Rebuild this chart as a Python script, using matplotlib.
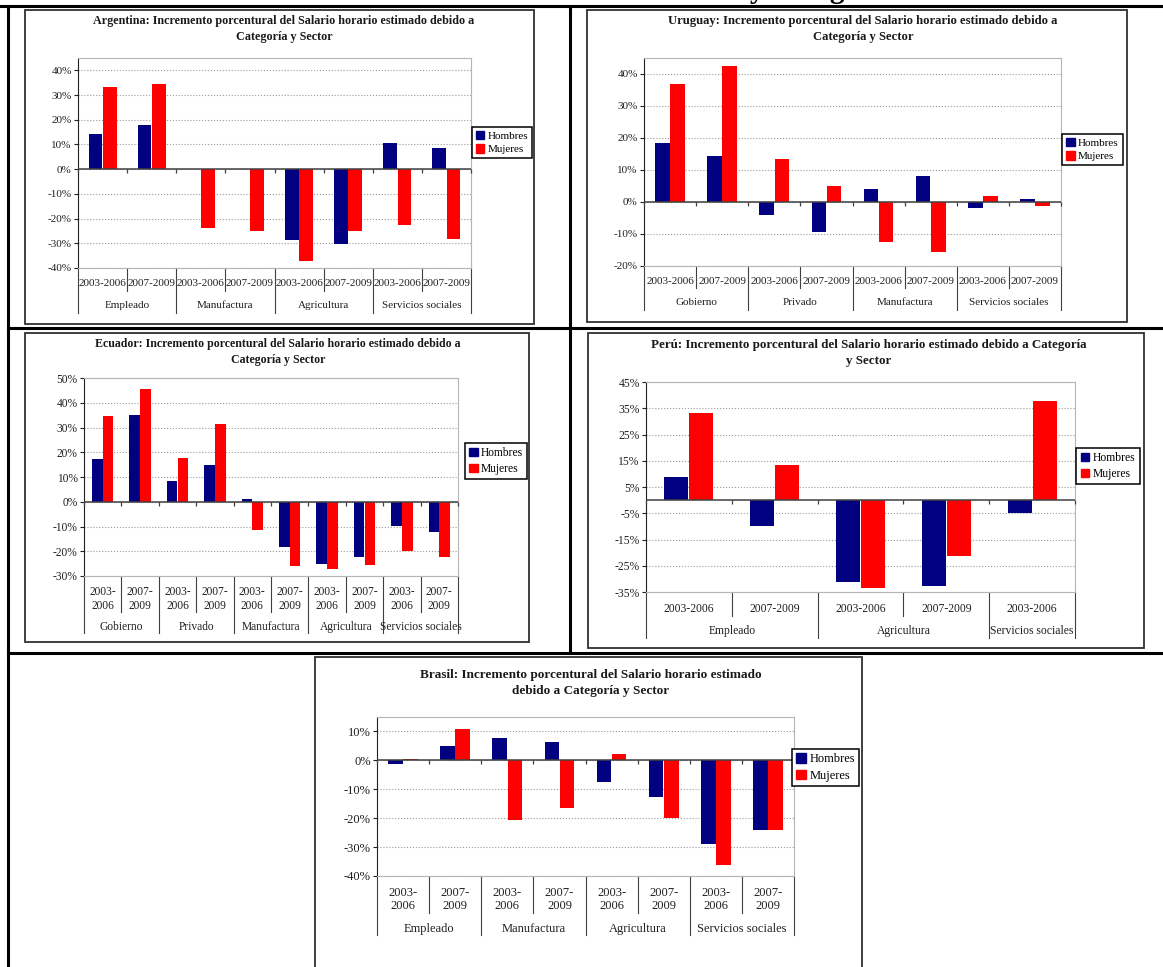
import numpy as np
import matplotlib
matplotlib.use('Agg')
import matplotlib.pyplot as plt
import matplotlib.transforms as mtransforms
from matplotlib.lines import Line2D
from matplotlib.patches import Rectangle, Patch
from matplotlib.ticker import FuncFormatter

plt.rcParams['font.family'] = ['Liberation Serif', 'DejaVu Serif']

W, H = 1163, 967
AZUL = '#000080'
ROJO = '#ff0000'

# ---- datos (% de incremento) ----
periodos_1 = ['2003-2006', '2007-2009'] * 4
periodos_2 = ['2003-\n2006', '2007-\n2009'] * 5
periodos_br = ['2003-\n2006', '2007-\n2009'] * 4
periodos_pe = ['2003-2006', '2007-2009', '2003-2006', '2007-2009', '2003-2006']

arg_sectores = ['Empleado', 'Manufactura', 'Agricultura', 'Servicios sociales']
arg_hombres = [14.4, 18.0, 0, 0, -28.7, -30.3, 10.4, 8.4]
arg_mujeres = [33.4, 34.6, -23.8, -25.1, -37.2, -25.1, -22.6, -28.3]

uru_sectores = ['Gobierno', 'Privado', 'Manufactura', 'Servicios sociales']
uru_hombres = [18.5, 14.5, -4.1, -9.3, 4.1, 8.2, -1.9, 0.9]
uru_mujeres = [36.8, 42.4, 13.5, 5.0, -12.6, -15.7, 1.9, -1.3]

ecu_sectores = ['Gobierno', 'Privado', 'Manufactura', 'Agricultura', 'Servicios sociales']
ecu_hombres = [17.4, 35.0, 8.2, 15.0, 1.2, -18.1, -25.0, -22.2, -9.6, -12.4]
ecu_mujeres = [34.5, 45.4, 17.8, 31.6, -11.6, -25.8, -27.0, -25.4, -20.1, -22.2]

per_sectores = ['Empleado', 'Agricultura', 'Servicios sociales']
per_n = [2, 2, 1]
per_hombres = [8.8, -9.8, -31.1, -32.6, -5.0]
per_mujeres = [33.1, 13.4, -33.4, -21.1, 37.9]

bra_sectores = ['Empleado', 'Manufactura', 'Agricultura', 'Servicios sociales']
bra_hombres = [-1.4, 4.8, 7.6, 6.5, -7.6, -12.7, -28.9, -24.1]
bra_mujeres = [0.3, 10.7, -20.6, -16.5, 2.1, -20.0, -36.1, -24.1]

fig = plt.figure(figsize=(W / 100, H / 100), dpi=100)


def fx(x):
    return x / W


def fy(y):
    return 1 - y / H


def chart(box, plot, title, tc, periodos, sectores, n_por, hombres, mujeres,
          ylim, yticks, rows, legbox, fs, tfs):
    x0, y0, x1, y1 = box
    fig.add_artist(Rectangle((fx(x0), fy(y1)), (x1 - x0) / W, (y1 - y0) / H,
                             transform=fig.transFigure, fill=False,
                             ec='#303030', lw=1.3))
    fig.text(fx(tc[0]), fy(tc[1]), title, ha='center', va='center',
             fontsize=tfs, weight='bold', linespacing=1.35, color='#1a1a1a')
    l, t, r, b = plot
    ax = fig.add_axes([fx(l), fy(b), (r - l) / W, (b - t) / H])
    n = len(hombres)
    x = np.arange(n)
    ax.bar(x - 0.145, hombres, 0.28, color=AZUL, zorder=3)
    ax.bar(x + 0.145, mujeres, 0.28, color=ROJO, zorder=3)
    ax.set_xlim(-0.5, n - 0.5)
    ax.set_ylim(*ylim)
    ax.set_yticks(yticks)
    ax.yaxis.set_major_formatter(FuncFormatter(lambda v, p: f'{v:.0f}%'))
    ax.tick_params(axis='y', length=3, width=0.8, labelsize=fs, pad=1.5,
                   colors='#202020')
    ax.set_xticks([])
    ax.grid(axis='y', ls=':', color='#9a9a9a', lw=0.8)
    ax.set_axisbelow(True)
    for s in ['top', 'right', 'bottom']:
        ax.spines[s].set_color('#b5b5b5')
    ax.spines['left'].set_color('#202020')
    ax.axhline(0, color='#404040', lw=1.1, zorder=4)
    ax.plot(np.arange(n + 1) - 0.5, np.zeros(n + 1), ls='', marker=3, ms=3,
            mew=0.9, color='#404040', clip_on=False, zorder=4)

    ph = b - t
    trans = mtransforms.blended_transform_factory(ax.transData, ax.transAxes)
    r1, r2, sub_bot, bot = rows
    for i, p in enumerate(periodos):
        ax.text(i, (b - r1) / ph, p, ha='center', va='center', fontsize=fs,
                transform=trans, color='#202020', linespacing=1.2)
    k = 0
    bounds = [-0.5]
    for name, cnt in zip(sectores, n_por):
        ax.text(k + cnt / 2 - 0.5, (b - r2) / ph, name, ha='center',
                va='center', fontsize=fs, transform=trans, color='#202020')
        k += cnt
        bounds.append(k - 0.5)
    for i in range(n + 1):
        xb = i - 0.5
        yb = bot if xb in bounds else sub_bot
        ax.plot([xb, xb], [0, (b - yb) / ph], transform=trans,
                color='#404040', lw=0.8, clip_on=False)

    handles = [Patch(color=AZUL, label='Hombres'), Patch(color=ROJO, label='Mujeres')]
    lx0, ly0, lx1, ly1 = legbox
    leg = ax.legend(handles=handles, loc='center',
                    bbox_to_anchor=(fx((lx0 + lx1) / 2), fy((ly0 + ly1) / 2)),
                    bbox_transform=fig.transFigure, fontsize=fs, frameon=True,
                    fancybox=False, edgecolor='black', framealpha=1,
                    handlelength=0.75, handleheight=0.75, handletextpad=0.3,
                    borderpad=0.35, labelspacing=0.35, borderaxespad=0)
    leg.get_frame().set_linewidth(1.1)
    return ax


# lineas de la tabla
for xs, ys in [((0, W), (6, 6)), ((8, W), (328, 328)), ((8, W), (653, 653)),
               ((8, 8), (6, H)), ((570, 570), (6, 653))]:
    fig.add_artist(Line2D([fx(xs[0]), fx(xs[1])], [fy(ys[0]), fy(ys[1])],
                          transform=fig.transFigure, color='black', lw=2.2))

# encabezado cortado
fig.text(fx(750), fy(-2.5), 'y Categoría', fontsize=21, weight='bold',
         va='baseline', ha='left')

chart((25, 10, 534, 324), (78, 58, 471, 268),
      'Argentina: Incremento porcentural del Salario horario estimado debido a\nCategoría y Sector',
      (284, 29), periodos_1, arg_sectores, [2] * 4, arg_hombres, arg_mujeres,
      (-40, 45), range(-40, 41, 10), (284, 306, 291, 313), (472, 126, 532, 159), 8.0, 8.7)

chart((587, 10, 1127, 322), (644, 58, 1061, 266),
      'Uruguay: Incremento porcentural del Salario horario estimado debido a\nCategoría y Sector',
      (863, 29), periodos_1, uru_sectores, [2] * 4, uru_hombres, uru_mujeres,
      (-20, 45), range(-20, 41, 10), (282, 303, 288, 310), (1061, 133, 1124, 166), 8.0, 9.1)

chart((25, 333, 529, 642), (84, 378, 458, 576),
      'Ecuador: Incremento porcentural del Salario horario estimado debido a\nCategoría y Sector',
      (278, 352), periodos_2, ecu_sectores, [2] * 5, ecu_hombres, ecu_mujeres,
      (-30, 50), range(-30, 51, 10), (599, 627, 612, 633), (467, 444, 525, 478), 8.3, 8.6)

chart((588, 333, 1144, 648), (646, 382, 1075, 592),
      'Perú: Incremento porcentural del Salario horario estimado debido a Categoría\ny Sector',
      (869, 353), periodos_pe, per_sectores, per_n, per_hombres, per_mujeres,
      (-35, 45), range(-35, 46, 10), (609, 631, 616, 638), (1076, 449, 1140, 483), 8.4, 9.4)

chart((315, 657, 862, 990), (377, 717, 794, 876),
      'Brasil: Incremento porcentural del Salario horario estimado\ndebido a Categoría y Sector',
      (591, 683), periodos_br, bra_sectores, [2] * 4, bra_hombres, bra_mujeres,
      (-40, 15), range(-40, 11, 10), (899.5, 929, 913, 935), (796, 752, 855, 783), 9.0, 9.5)

fig.savefig('out.png', dpi=100)
